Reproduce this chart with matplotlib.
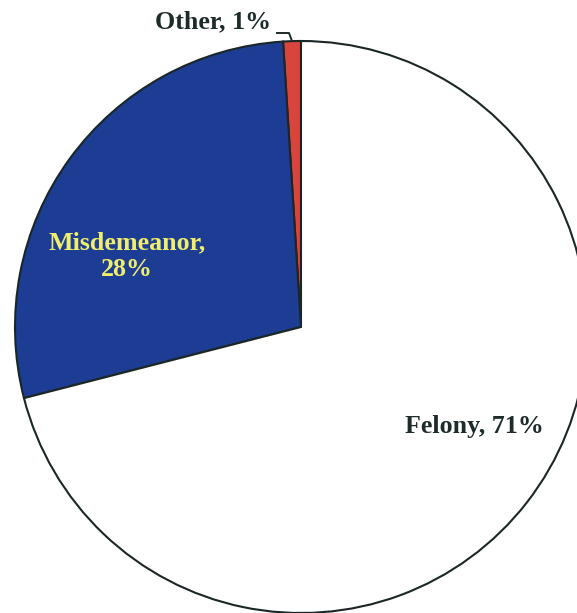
import matplotlib
matplotlib.use("Agg")
from matplotlib import pyplot as plt

labels = ["Other", "Misdemeanor", "Felony"]
shares = [1, 28, 71]
colors = ["#d9443c", "#1c3d93", "#ffffff"]

W, H = 577, 613
fig = plt.figure(figsize=(W / 100, H / 100), dpi=100)
ax = fig.add_axes([0, 0, 1, 1])

center = (301, H - 327)
radius = 286
ax.pie(
    shares,
    colors=colors,
    startangle=90,
    counterclock=True,
    center=center,
    radius=radius,
    frame=True,
    wedgeprops={"edgecolor": "#1b2626", "linewidth": 1.5},
)
ax.set_xlim(0, W)
ax.set_ylim(0, H)
ax.set_aspect("equal")
ax.axis("off")

font = {"family": ["Liberation Serif", "DejaVu Serif"], "weight": "bold", "size": 18.7}
dark = "#1e2b2b"

ax.text(213, H - 22, f"{labels[0]}, {shares[0]}%", color=dark, ha="center", va="center", **font)
ax.plot([277, 289, 292], [H - 33, H - 33, H - 41], color=dark, lw=1.4)
ax.text(127, H - 256, f"{labels[1]},\n{shares[1]}%", color="#f1ef6a", ha="center", va="center",
        linespacing=1.2, **font)
ax.text(474, H - 427, f"{labels[2]}, {shares[2]}%", color=dark, ha="center", va="center", **font)

fig.savefig("out.png", dpi=100)
